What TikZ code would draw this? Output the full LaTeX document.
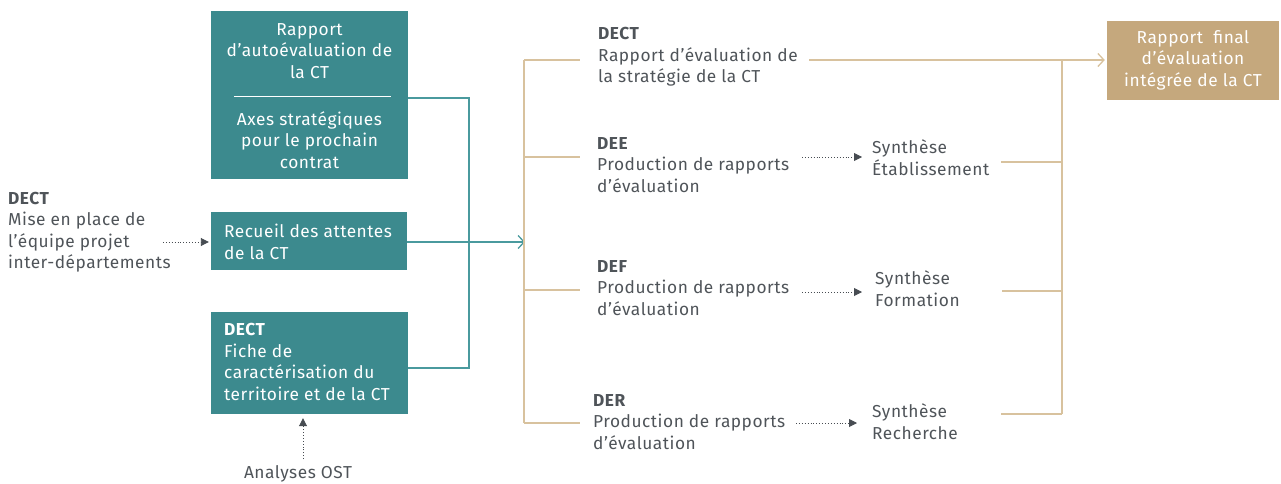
\documentclass[tikz,border=0pt]{standalone}
\usepackage{fontspec}
\setmainfont{Fira Sans}[LetterSpace=3]
\usetikzlibrary{arrows.meta,calc}
\definecolor{teal}{HTML}{3C8A8E}
\definecolor{tealline}{HTML}{4A9A9E}
\definecolor{tanbox}{HTML}{C5A87D}
\definecolor{tanline}{HTML}{D8C29E}
\definecolor{textgray}{HTML}{4F5459}
\definecolor{arrgray}{HTML}{474C52}
\begin{document}
\begin{tikzpicture}[x=1pt,y=-1pt,
  txt/.style={font=\fontsize{17.3}{21.5}\selectfont, text=textgray, inner sep=0pt, align=left, anchor=west},
  wtxt/.style={font=\fontsize{17.3}{21.5}\selectfont, text=white, inner sep=0pt},
  tealbox/.style={fill=teal, draw=none, inner sep=0pt},
  tanbx/.style={fill=tanbox, draw=none, inner sep=0pt},
  tealln/.style={draw=tealline, line width=1.3pt},
  tanln/.style={draw=tanline, line width=1.3pt},
  openarr/.style={-{Straight Barb[length=6pt,width=13pt,line width=1.3pt]}},
  dotarr/.style={draw=arrgray, dotted, line width=0.9pt, -{Triangle[length=8pt,width=8pt]}}
]
\useasboundingbox (0,0) rectangle (1281,484);

% teal boxes
\node[tealbox, minimum width=197pt, minimum height=168pt] (b1) at (309.5,95) {};
\node[tealbox, minimum width=196pt, minimum height=58pt] (b2) at (309,241) {};
\node[tealbox, minimum width=197pt, minimum height=102pt] (b3) at (309.5,363) {};

\node[wtxt, align=center] (b1top) at (309.5,51) {Rapport\\d’autoévaluation de\\la CT};
\draw[white, line width=1pt] (234,97) -- (391,97);
\node[wtxt, align=center] (b1bot) at (309.5,140) {Axes stratégiques\\pour le prochain\\contrat};
\node[wtxt, align=left, anchor=west] (b2t) at (224,242) {Recueil des attentes\\de la CT};
\node[wtxt, align=left, anchor=west] (b3t) at (224,362) {\textbf{DECT}\\Fiche de\\caractérisation du\\territoire et de la CT};

% left text
\node[txt] (left) at (8,232) {\textbf{DECT}\\Mise en place de\\l’équipe projet\\inter-départements};
\draw[dotarr] (163,242) -- ($(b2.west)+(-2,1)$);

% Analyses OST
\node[txt, anchor=center] (ost) at (298,474) {Analyses OST};
\draw[dotarr] (303,459) -- ($(b3.south -| 303,0)+(0,4)$);

% teal connectors
\coordinate (tj) at (469,98);
\draw[tealln] (b1.east |- tj) -- (tj) -- (469,368) -- (b3.east |- 0,368);
\coordinate (tin) at (525,242);
\draw[tealln, openarr] (b2.east |- tin) -- (tin);

% middle texts
\node[txt] (dect) at (598,57) {\textbf{DECT}\\Rapport d’évaluation de\\la stratégie de la CT};
\node[txt] (dee) at (597,165) {\textbf{DEE}\\Production de rapports\\d’évaluation};
\node[txt] (def) at (597,288) {\textbf{DEF}\\Production de rapports\\d’évaluation};
\node[txt] (der) at (593,422) {\textbf{DER}\\Production de rapports\\d’évaluation};

% tan left bracket
\coordinate (l1) at (524,60);
\coordinate (l2) at (524,157);
\coordinate (l3) at (524,290);
\coordinate (l4) at (524,423);
\draw[tanln] (l1) -- (l4);
\draw[tanln] (l1) -- ++(56,0);
\draw[tanln] (l2) -- ++(56,0);
\draw[tanln] (l3) -- ++(56,0);
\draw[tanln] (l4) -- ++(56,0);

% syntheses
\node[txt] (synE) at (872,157.5) {Synthèse\\Établissement};
\node[txt] (synF) at (875,288.5) {Synthèse\\Formation};
\node[txt] (synR) at (872,421.5) {Synthèse\\Recherche};

\draw[dotarr] (802,157) -- ($(synE.west |- 0,157)+(-10,0)$);
\draw[dotarr] (802,292) -- ($(synF.west |- 0,292)+(-13,0)$);
\draw[dotarr] (796,423) -- ($(synR.west |- 0,423)+(-15,0)$);

% final box
\node[tanbx, minimum width=172pt, minimum height=79pt] (fin) at (1193,60.5) {};
\node[wtxt, align=center] (fint) at (1193,60) {Rapport\ \ final\\d’évaluation\\intégrée de la CT};

% right bracket
\coordinate (r1) at (1062,60);
\coordinate (r2) at (1062,162);
\coordinate (r3) at (1062,291);
\coordinate (r4) at (1062,414);
\draw[tanln, openarr] (809,60) -- ($(fin.west |- r1)+(-2,0)$);
\draw[tanln] (r1) -- (r4);
\draw[tanln] (1001,162) -- (r2);
\draw[tanln] (1002,291) -- (r3);
\draw[tanln] (1001,414) -- (r4);
\end{tikzpicture}
\end{document}
